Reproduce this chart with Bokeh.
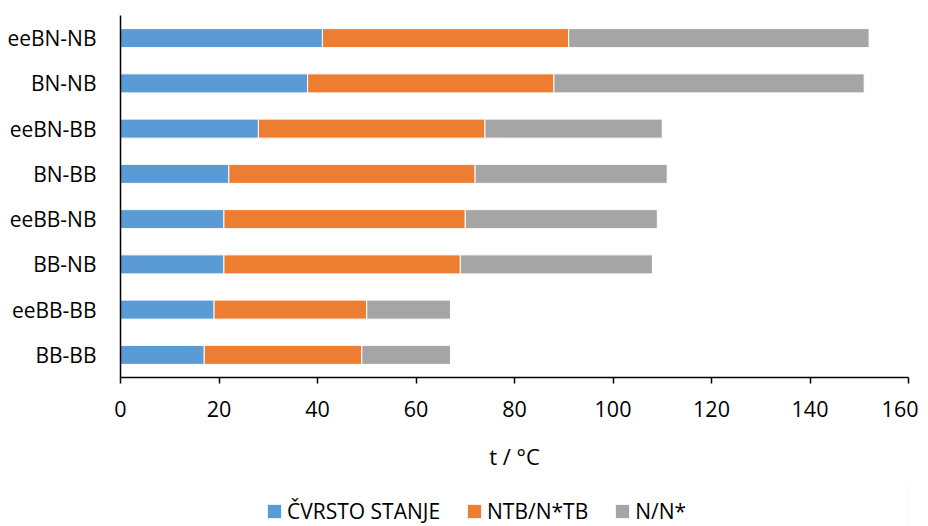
from bokeh.plotting import figure
from bokeh.layouts import column
from bokeh.models import FactorRange, Range1d, Legend, LegendItem, FixedTicker
from bokeh.embed import file_html
from bokeh.resources import INLINE

categories = ["BB-BB", "eeBB-BB", "BB-NB", "eeBB-NB", "BN-BB", "eeBN-BB", "BN-NB", "eeBN-NB"]
solid = [17, 19, 21, 21, 22, 28, 38, 41]
ntb = [32, 31, 48, 49, 50, 46, 50, 50]
nn = [18, 17, 39, 39, 39, 36, 63, 61]
series_names = ["ČVRSTO STANJE", "NTB/N*TB", "N/N*"]
colors = ["#5B9BD5", "#ED7D31", "#A5A5A5"]
x_ticks = [0, 20, 40, 60, 80, 100, 120, 140, 160]

FONT = "Open Sans"

p = figure(y_range=FactorRange(*categories), x_range=Range1d(0, 160),
           frame_width=788, frame_height=362,
           output_backend="svg", toolbar_location=None,
           min_border_left=120, min_border_right=10, min_border_top=15, min_border_bottom=108)

data = dict(cat=categories, s=solid, o=ntb, g=nn)
keys = ["s", "o", "g"]
renderers = p.hbar_stack(keys, y="cat", height=0.42, color=colors, source=data,
                         line_color="white", line_width=1)

p.xgrid.visible = False
p.ygrid.visible = False
p.outline_line_color = None

p.xaxis.ticker = FixedTicker(ticks=x_ticks)
p.xaxis.axis_label = "t / °C"
p.xaxis.axis_label_text_font = FONT
p.xaxis.axis_label_text_font_style = "normal"
p.xaxis.axis_label_text_font_size = "22px"
p.xaxis.axis_label_text_color = "#000000"
p.xaxis.axis_label_standoff = 21
p.xaxis.major_label_text_font = FONT
p.xaxis.major_label_text_font_size = "21.5px"
p.xaxis.major_label_text_color = "#000000"
p.xaxis.major_label_standoff = 17
p.xaxis.major_tick_out = 6
p.xaxis.major_tick_in = 0
p.xaxis.minor_tick_line_color = None
p.xaxis.axis_line_color = "#000000"
p.xaxis.axis_line_width = 1.5
p.xaxis.major_tick_line_color = "#000000"
p.xaxis.major_tick_line_width = 1.5

p.yaxis.major_label_text_font = FONT
p.yaxis.major_label_text_font_size = "21px"
p.yaxis.major_label_text_color = "#000000"
p.yaxis.major_label_standoff = 18
p.yaxis.major_tick_line_color = None
p.yaxis.minor_tick_line_color = None
p.yaxis.axis_line_color = "#000000"
p.yaxis.axis_line_width = 1.5

# legend strip below the chart (its bars lie far outside its visible x range; only the legend shows)
lf = figure(width=918, height=40, y_range=FactorRange(*categories), x_range=Range1d(-50, -40),
            x_axis_location=None, y_axis_location=None,
            output_backend="svg", toolbar_location=None,
            min_border_left=0, min_border_right=0, min_border_top=0, min_border_bottom=0)
lf.xgrid.visible = False
lf.ygrid.visible = False
lf.outline_line_color = None

legend_renderers = lf.hbar_stack(keys, y="cat", height=0.42, color=colors, source=data,
                                 line_color="white", line_width=1)
items = [LegendItem(label=n, renderers=[r]) for n, r in zip(series_names, legend_renderers)]
legend = Legend(items=items, orientation="horizontal", location=(145, 0),
                label_text_font=FONT, label_text_font_size="21px",
                label_text_color="#000000",
                glyph_width=18, glyph_height=18, label_standoff=4, spacing=25,
                border_line_color=None, background_fill_alpha=0,
                padding=0, margin=0)
lf.add_layout(legend, "center")

layout = column(p, lf, spacing=0)
open("out.html", "w").write(file_html(layout, INLINE))
